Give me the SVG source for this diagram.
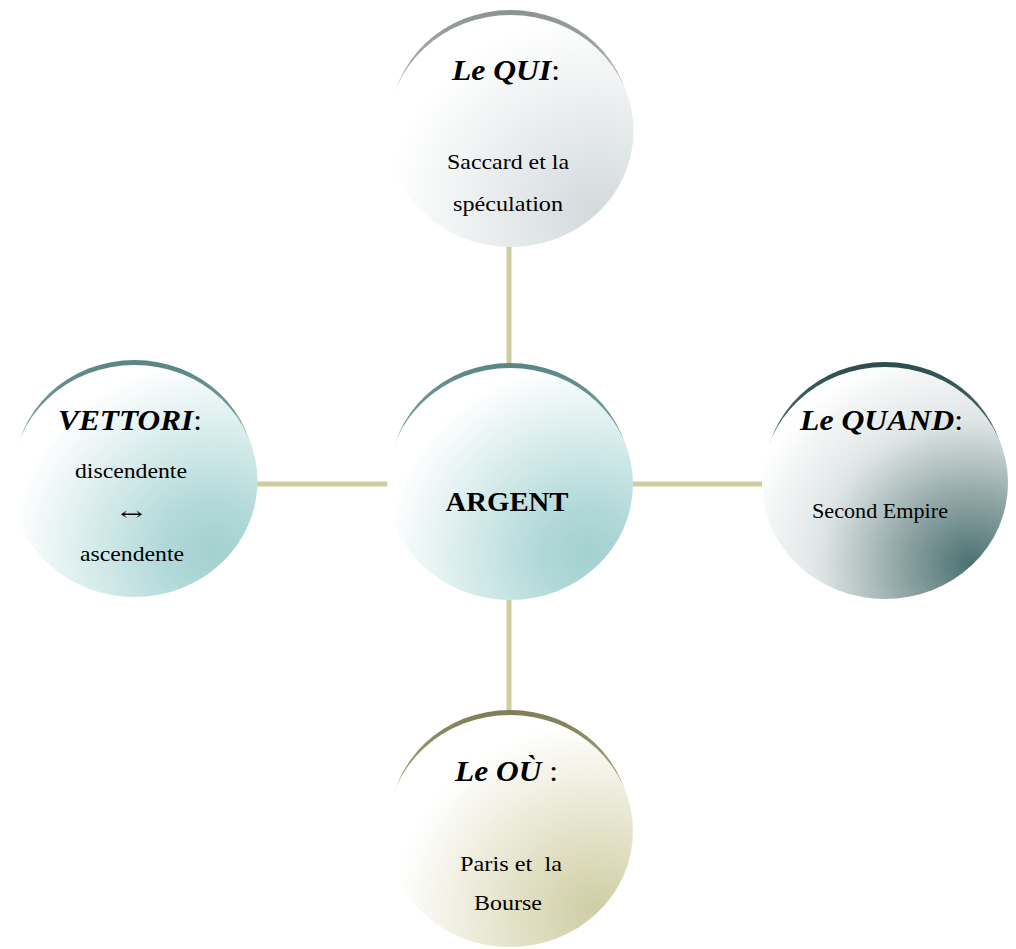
<svg xmlns="http://www.w3.org/2000/svg" width="1016" height="949" viewBox="0 0 1016 949">
  <defs>
    <radialGradient id="gQui" cx="0.85" cy="0.85" r="0.85" fx="0.85" fy="0.85">
      <stop offset="0" stop-color="#d3dadc"/>
      <stop offset="1" stop-color="#ffffff"/>
    </radialGradient>
    <radialGradient id="gTeal" cx="0.82" cy="0.8" r="0.82" fx="0.82" fy="0.8">
      <stop offset="0" stop-color="#a3d0d0"/>
      <stop offset="0.25" stop-color="#b2d9d9"/>
      <stop offset="1" stop-color="#ffffff"/>
    </radialGradient>
    <radialGradient id="gDark" cx="0.85" cy="0.85" r="0.95" fx="0.85" fy="0.85">
      <stop offset="0" stop-color="#4a7171"/>
      <stop offset="0.3" stop-color="#8fa4a4"/>
      <stop offset="0.65" stop-color="#dfe5e5"/>
      <stop offset="1" stop-color="#ffffff"/>
    </radialGradient>
    <radialGradient id="gOlive" cx="0.85" cy="0.85" r="0.82" fx="0.85" fy="0.85">
      <stop offset="0" stop-color="#cfcda3"/>
      <stop offset="0.3" stop-color="#dddcbd"/>
      <stop offset="1" stop-color="#ffffff"/>
    </radialGradient>
    <linearGradient id="rQui" x1="0" y1="0" x2="0" y2="1">
      <stop offset="0" stop-color="#8c9292"/>
      <stop offset="0.35" stop-color="#b5bbbb"/>
    </linearGradient>
    <linearGradient id="rTeal" x1="0" y1="0" x2="0" y2="1">
      <stop offset="0" stop-color="#5a8585"/>
      <stop offset="0.35" stop-color="#7fa7a7"/>
    </linearGradient>
    <linearGradient id="rDark" x1="0" y1="0" x2="0" y2="1">
      <stop offset="0" stop-color="#2c4d4d"/>
      <stop offset="0.35" stop-color="#4e7070"/>
    </linearGradient>
    <linearGradient id="rOlive" x1="0" y1="0" x2="0" y2="1">
      <stop offset="0" stop-color="#7f7d55"/>
      <stop offset="0.35" stop-color="#a9a77e"/>
    </linearGradient>
  </defs>
  <style>
    .conn { stroke: #cfcd9e; stroke-width: 5; fill: none; }
    .t { font-family: "Liberation Serif", "Times New Roman", serif; fill: #000; text-anchor: middle; }
    .h { font-size: 30px; }
    .hb { font-weight: bold; font-style: italic; }
    .b { font-size: 22px; }
    .arr { font-family: "DejaVu Serif", serif; font-size: 18px; fill: #000; text-anchor: middle; }
  </style>
  <rect width="1016" height="949" fill="#ffffff"/>
  <g id="connectors">
    <line class="conn" x1="509" y1="240" x2="509" y2="375"/>
    <line class="conn" x1="509" y1="590" x2="509" y2="720"/>
    <line class="conn" x1="250" y1="484" x2="395" y2="484"/>
    <line class="conn" x1="625" y1="484" x2="770" y2="484"/>
  </g>
  <g id="node-qui">
    <ellipse cx="510.5" cy="123" rx="120" ry="113" fill="url(#rQui)"/>
    <ellipse cx="510.5" cy="131" rx="123" ry="116" fill="url(#gQui)"/>
    <text class="t h" x="506" y="80" textLength="108" lengthAdjust="spacingAndGlyphs"><tspan class="hb">Le QUI</tspan>:</text>
    <text class="t b" x="508" y="169" textLength="122" lengthAdjust="spacingAndGlyphs">Saccard et la</text>
    <text class="t b" x="508" y="211" textLength="110" lengthAdjust="spacingAndGlyphs">spéculation</text>
  </g>
  <g id="node-argent">
    <ellipse cx="510" cy="476" rx="120" ry="113" fill="url(#rTeal)"/>
    <ellipse cx="510" cy="484" rx="123" ry="116" fill="url(#gTeal)"/>
    <text class="t" x="507" y="511" font-size="28" font-weight="bold" textLength="123" lengthAdjust="spacingAndGlyphs">ARGENT</text>
  </g>
  <g id="node-vettori">
    <ellipse cx="134.5" cy="473" rx="120" ry="113" fill="url(#rTeal)"/>
    <ellipse cx="134.5" cy="481" rx="123" ry="116" fill="url(#gTeal)"/>
    <text class="t h" x="130" y="430" textLength="144" lengthAdjust="spacingAndGlyphs"><tspan class="hb">VETTORI</tspan>:</text>
    <text class="t b" x="131" y="478" textLength="112" lengthAdjust="spacingAndGlyphs">discendente</text>
    <text class="arr" x="131.5" y="520" textLength="23" lengthAdjust="spacingAndGlyphs">↔</text>
    <text class="t b" x="132" y="561" textLength="104" lengthAdjust="spacingAndGlyphs">ascendente</text>
  </g>
  <g id="node-quand">
    <ellipse cx="885" cy="475" rx="120" ry="113" fill="url(#rDark)"/>
    <ellipse cx="885" cy="483" rx="123" ry="116" fill="url(#gDark)"/>
    <text class="t h" x="881.5" y="430" textLength="163" lengthAdjust="spacingAndGlyphs"><tspan class="hb">Le QUAND</tspan>:</text>
    <text class="t b" x="880" y="518" textLength="136" lengthAdjust="spacingAndGlyphs">Second Empire</text>
  </g>
  <g id="node-ou">
    <ellipse cx="510" cy="823" rx="120" ry="113" fill="url(#rOlive)"/>
    <ellipse cx="510" cy="831" rx="123" ry="116" fill="url(#gOlive)"/>
    <text class="t h" x="506.5" y="781" textLength="103" lengthAdjust="spacingAndGlyphs"><tspan class="hb">Le OÙ</tspan> :</text>
    <text class="t b" x="511" y="871" textLength="102" lengthAdjust="spacingAndGlyphs" xml:space="preserve">Paris et  la</text>
    <text class="t b" x="508" y="910" textLength="68" lengthAdjust="spacingAndGlyphs">Bourse</text>
  </g>
</svg>
